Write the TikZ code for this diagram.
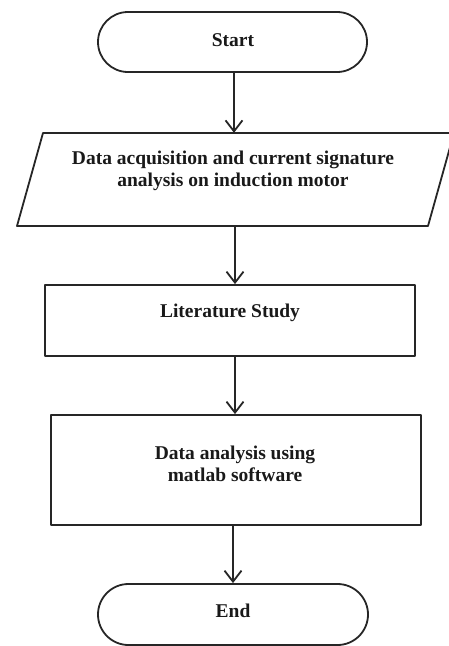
\documentclass[tikz,border=0pt]{standalone}
\usepackage{fontspec}
\setmainfont{Liberation Serif}
\usetikzlibrary{shapes.misc,arrows.meta}
\tikzset{
  line/.style={draw=black!85, line width=1.8pt, line join=round},
  term/.style={line, rounded rectangle, inner sep=0pt, minimum width=269pt, minimum height=60pt},
  procbox/.style={line, rectangle, inner sep=0pt, minimum width=370pt},
  holder/.style={rectangle, draw=none, inner sep=0pt},
  txt/.style={font=\fontsize{19.5}{21.5}\selectfont\bfseries, align=center, inner sep=0pt, text=black!90},
  arr/.style={line, -{Straight Barb[length=11pt,width=17pt,line width=1.8pt]}},
}
\begin{document}
\begin{tikzpicture}[x=1pt,y=1pt]
\useasboundingbox (0,0) rectangle (449,-646);
\begin{scope}
\clip (0,0) rectangle (449,-646);
% Start
\node[term] (start) at (232.5,-42) {};
\node[txt] (starttxt) at (233,-40.5) {Start};
% Parallelogram
\coordinate (pbl) at (17,-226);
\coordinate (ptl) at (43,-133);
\coordinate (ptr) at (454,-133);
\coordinate (pbr) at (428,-226);
\draw[line] (pbl) -- (ptl) -- (ptr) -- (pbr) -- cycle;
\node[holder, minimum width=385pt, minimum height=93pt] (acq) at (235.5,-179.5) {};
\node[txt] (acqtxt) at (233,-171) {Data acquisition and current signature\\analysis on induction motor};
% Literature study
\node[procbox, minimum height=71pt] (lit) at (230,-320.5) {};
\node[txt] (littxt) at (230,-313) {Literature Study};
% Data analysis
\node[procbox, minimum height=110pt] (ana) at (236,-470) {};
\node[txt] (anatxt) at (235,-464) {Data analysis using\\matlab software};
% End
\node[term, minimum width=270pt, minimum height=61pt] (end) at (233,-614.5) {};
\node[txt] (endtxt) at (233,-611) {End};
% Arrows
\draw[arr] ([xshift=1.5pt]start.south) -- ([xshift=1.5pt]start.south |- acq.north);
\draw[arr] ([xshift=-0.5pt]acq.south) -- ([xshift=-0.5pt]acq.south |- lit.north);
\draw[arr] ([xshift=5pt]lit.south) -- ([xshift=5pt]lit.south |- ana.north);
\draw[arr] ([xshift=-3pt]ana.south) -- ([xshift=-3pt]ana.south |- end.north);
\end{scope}
\end{tikzpicture}
\end{document}
